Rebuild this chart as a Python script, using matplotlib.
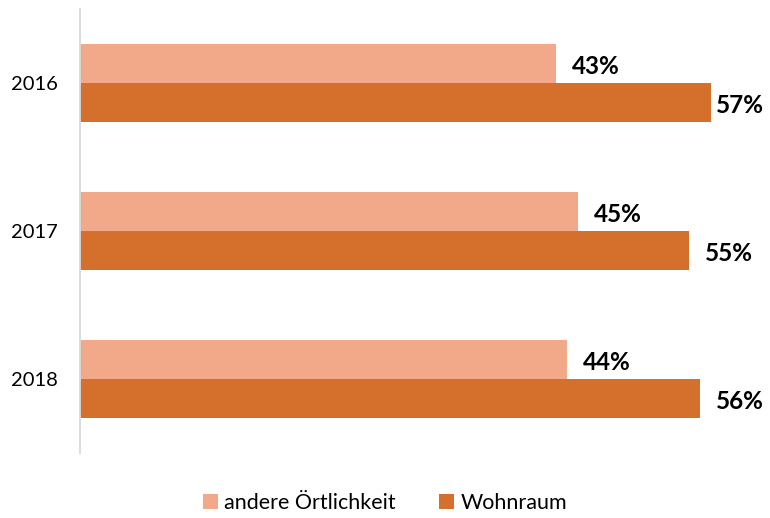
import matplotlib.pyplot as plt
import numpy as np

years = ["2016", "2017", "2018"]
andere = [43, 45, 44]
wohnraum = [57, 55, 56]

c_light = "#F2A98A"
c_dark = "#D4702B"

plt.rcParams["font.family"] = ["Lato", "DejaVu Sans"]

fig = plt.figure(figsize=(7.70, 5.18), dpi=100)
ax = fig.add_axes([80 / 770, 1 - 453 / 518, 664 / 770, 444 / 518])

y = np.arange(len(years))
h = 0.265
b1 = ax.barh(y - h / 2, andere, height=h, color=c_light, label="andere Örtlichkeit")
b2 = ax.barh(y + h / 2, wohnraum, height=h, color=c_dark, label="Wohnraum")

ax.set_xlim(0, 60)
ax.set_ylim(2.5, -0.5)

# labels right of the bars, kept inside the frame
for bars, vals in ((b1, andere), (b2, wohnraum)):
    for yy, v in zip([b.get_y() + b.get_height() / 2 for b in bars], vals):
        ax.text(min(v + 1.45, 57.5), yy + 0.02, f"{v}%", va="center", ha="left",
                fontsize=17.5, fontweight="bold", color="black")

ax.set_yticks(y)
ax.set_yticklabels(years, fontsize=14.5)
ax.tick_params(axis="y", length=0, pad=16)
ax.set_xticks([])
for s in ["top", "right", "bottom"]:
    ax.spines[s].set_visible(False)
ax.spines["left"].set_color("#D9D9D9")
ax.spines["left"].set_linewidth(1.3)

fig.legend(loc="center", bbox_to_anchor=(0.5, 1 - 503 / 518), ncol=2, frameon=False,
           fontsize=15.5, handlelength=0.7, handleheight=0.7, handletextpad=0.3,
           columnspacing=2.0)

fig.savefig("out.png", dpi=100)
